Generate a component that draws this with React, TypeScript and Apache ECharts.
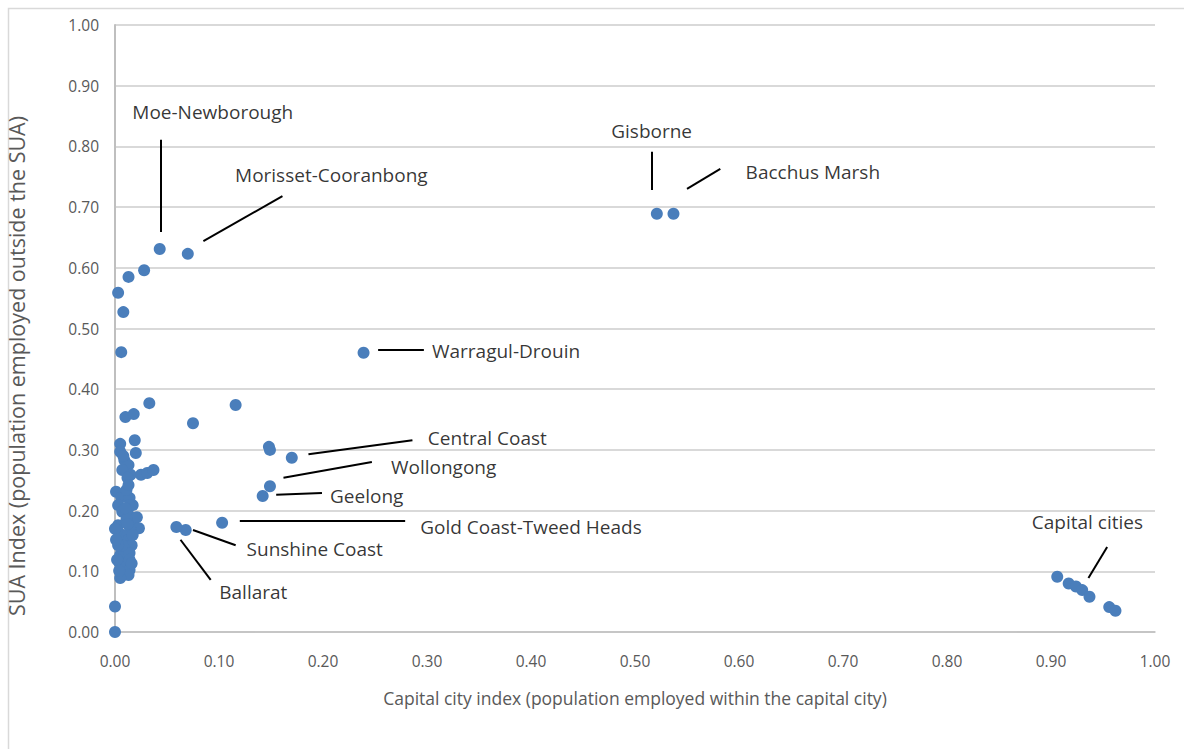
import React, { useEffect, useRef } from "react";
import * as echarts from "echarts";

// Scatter points: [capital city index, SUA index]
const clusterPoints: number[][] = [
  [0.005, 0.31], [0.005, 0.297], [0.009, 0.283], [0.013, 0.275], [0.007, 0.267],
  [0.015, 0.259], [0.012, 0.254], [0.02, 0.295], [0.019, 0.316], [0.025, 0.259],
  [0.031, 0.262], [0.037, 0.267], [0.001, 0.231], [0.006, 0.222], [0.014, 0.221],
  [0.017, 0.209], [0.003, 0.209], [0.007, 0.198], [0.013, 0.193], [0.018, 0.185],
  [0.021, 0.189], [0.023, 0.171], [0.015, 0.168], [0.003, 0.176], [0.008, 0.16],
  [0.013, 0.152], [0.016, 0.143], [0.01, 0.135], [0.005, 0.127], [0.014, 0.13],
  [0.004, 0.115], [0.01, 0.107], [0.014, 0.102], [0.006, 0.092], [0.013, 0.094],
  [0.005, 0.089], [0.014, 0.209], [0.011, 0.185], [0.002, 0.168], [0.007, 0.143],
  [0.014, 0.119], [0.017, 0.16], [0.003, 0.143], [0.0, 0.17], [0.001, 0.152],
  [0.002, 0.119], [0.011, 0.234], [0.013, 0.242], [0.01, 0.204], [0.0, 0.0],
  [0.0, 0.042], [0.004, 0.101], [0.012, 0.178], [0.008, 0.29], [0.016, 0.113],
];
const otherPoints: number[][] = [
  [0.043, 0.631], [0.07, 0.623], [0.028, 0.596], [0.013, 0.585], [0.003, 0.559],
  [0.008, 0.527], [0.006, 0.461], [0.521, 0.689], [0.537, 0.689], [0.239, 0.46],
  [0.033, 0.377], [0.116, 0.374], [0.01, 0.354], [0.018, 0.359], [0.075, 0.344],
  [0.148, 0.305], [0.149, 0.3], [0.17, 0.287], [0.149, 0.24], [0.142, 0.224],
  [0.103, 0.18], [0.068, 0.168], [0.059, 0.173],
];
const capitalPoints: number[][] = [
  [0.906, 0.091], [0.917, 0.08], [0.924, 0.075], [0.93, 0.069],
  [0.937, 0.058], [0.956, 0.041], [0.962, 0.035],
];

// Annotation labels: [x, y] centre, text
const labelNames: string[] = [
  "Moe-Newborough", "Morisset-Cooranbong", "Gisborne", "Bacchus Marsh",
  "Warragul-Drouin", "Central Coast", "Wollongong", "Geelong",
  "Gold Coast-Tweed Heads", "Sunshine Coast", "Ballarat", "Capital cities",
];
const labelPos: number[][] = [
  [0.094, 0.857], [0.208, 0.753], [0.516, 0.825], [0.671, 0.758],
  [0.376, 0.463], [0.358, 0.32], [0.316, 0.272], [0.242, 0.224],
  [0.4, 0.173], [0.192, 0.137], [0.133, 0.066], [0.935, 0.181],
];
// Leader lines: [x1, y1, x2, y2]
const leaderLines: number[][] = [
  [0.044, 0.811, 0.044, 0.659],
  [0.085, 0.644, 0.161, 0.718],
  [0.516, 0.791, 0.516, 0.728],
  [0.55, 0.73, 0.582, 0.763],
  [0.253, 0.465, 0.297, 0.465],
  [0.186, 0.293, 0.286, 0.316],
  [0.162, 0.254, 0.247, 0.28],
  [0.155, 0.226, 0.199, 0.229],
  [0.12, 0.183, 0.279, 0.183],
  [0.075, 0.168, 0.116, 0.143],
  [0.063, 0.152, 0.092, 0.086],
  [0.936, 0.089, 0.954, 0.14],
];

const Y_TITLE = "SUA Index (population employed outside the SUA)";
const X_TITLE = "Capital city index (population employed within the capital city)";
const FONT = "'Open Sans', sans-serif";

export default function App() {
  const ref = useRef<HTMLDivElement>(null);
  useEffect(() => {
    if (!ref.current) return;
    const chart = echarts.init(ref.current, undefined, { renderer: "svg" });
    const allPoints = [...clusterPoints, ...otherPoints, ...capitalPoints];
    chart.setOption({
      animation: false,
      backgroundColor: "#ffffff",
      grid: { left: 115, right: 29, top: 25, bottom: 117, outerBoundsMode: "none", containLabel: false },
      graphic: [
        {
          type: "rect",
          shape: { x: 8.5, y: 8.5, width: 1400, height: 1000 },
          style: { fill: "none", stroke: "#d9d9d9", lineWidth: 1.5 },
          silent: true,
        },
        {
          type: "text",
          x: 16,
          y: 366,
          rotation: Math.PI / 2,
          silent: true,
          style: {
            text: Y_TITLE,
            fill: "#595959",
            fontSize: 21.5,
            fontFamily: FONT,
            align: "center",
            verticalAlign: "middle",
          },
        },
      ],
      xAxis: {
        type: "value",
        min: 0,
        max: 1,
        interval: 0.1,
        name: X_TITLE,
        nameLocation: "middle",
        nameGap: 57,
        nameTextStyle: { color: "#595959", fontSize: 17.5, fontFamily: FONT },
        axisLine: { show: true, onZero: true, lineStyle: { color: "#bfbfbf", width: 1.5 } },
        axisTick: { show: false },
        axisLabel: {
          color: "#595959",
          fontSize: 15.5,
          fontFamily: FONT,
          margin: 21,
          formatter: (v: number) => v.toFixed(2),
        },
        splitLine: { show: false },
      },
      yAxis: {
        type: "value",
        min: 0,
        max: 1,
        interval: 0.1,
        axisLine: { show: true, lineStyle: { color: "#bfbfbf", width: 2 } },
        axisTick: { show: false },
        axisLabel: {
          color: "#595959",
          fontSize: 15.5,
          fontFamily: FONT,
          margin: 16,
          formatter: (v: number) => v.toFixed(2),
        },
        splitLine: { show: true, lineStyle: { color: "#d9d9d9", width: 2 } },
      },
      series: [
        {
          type: "scatter",
          data: allPoints,
          symbolSize: 12,
          itemStyle: { color: "#4a7ebb", opacity: 1 },
          markLine: {
            silent: true,
            symbol: "none",
            label: { show: false },
            lineStyle: { color: "#000000", width: 2, type: "solid" },
            data: leaderLines.map((l) => [
              { coord: [l[0], l[1]] },
              { coord: [l[2], l[3]] },
            ]),
          },
        },
        {
          type: "scatter",
          data: labelPos.map((p, i) => ({ value: p, name: labelNames[i] })),
          symbolSize: 0,
          silent: true,
          label: {
            show: true,
            position: "inside",
            formatter: (p: any) => p.name,
            color: "#000000",
            fontSize: 19,
            fontFamily: FONT,
          },
        },
      ],
    });
    return () => chart.dispose();
  }, []);
  return (
    <div
      ref={ref}
      style={{ position: "fixed", left: 0, top: 0, width: 1184, height: 749 }}
    />
  );
}
